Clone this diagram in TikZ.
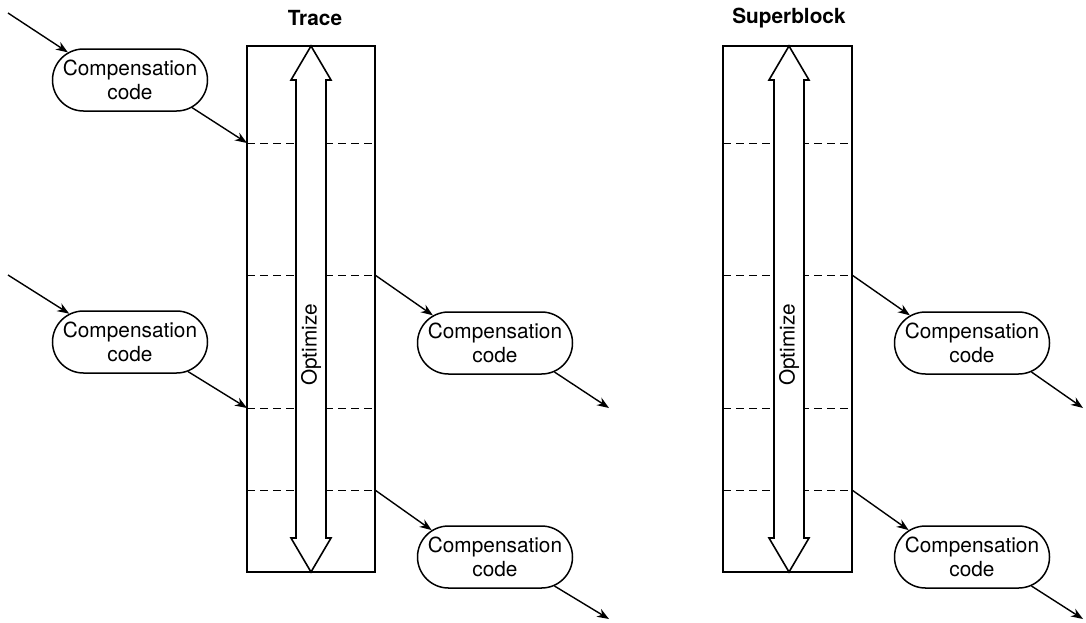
\documentclass[tikz,border=0pt]{standalone}
\usepackage{fontspec}
\setmainfont{TeX Gyre Heros}
\usetikzlibrary{shapes.misc,arrows.meta}
\tikzset{
  comp/.style={draw,line width=0.75pt,rounded rectangle,minimum width=77.5pt,minimum height=31pt,inner sep=0pt,align=center,font=\fontsize{10.4}{12.2}\selectfont},
  blockbox/.style={draw,line width=1pt},
  divider/.style={line width=0.5pt,dash pattern=on 4pt off 2.5pt},
  conn/.style={line width=0.7pt,-{Stealth[length=6pt,width=4.5pt]}},
  title/.style={font=\fontsize{10.4}{12}\selectfont\bfseries},
  optlabel/.style={rotate=90,font=\fontsize{10.4}{12}\selectfont},
  dblarrow/.style={draw,line width=0.8pt,fill=white,line join=miter}
}
\newcommand\OptArrow[3]{% cx, top, bottom
  \filldraw[dblarrow] (#1,#2) -- ({#1+20},{#2+34}) -- ({#1+15},{#2+34}) -- ({#1+15},{#3-34}) -- ({#1+20},{#3-34}) -- (#1,#3) -- ({#1-20},{#3-34}) -- ({#1-15},{#3-34}) -- ({#1-15},{#2+34}) -- ({#1-20},{#2+34}) -- cycle;}
\begin{document}
\begin{tikzpicture}[x=0.5pt,y=-0.5pt]
\useasboundingbox (0,0) rectangle (1086,622);
% ---------- Trace ----------
\node[title] (ttitle) at (315,18) {Trace};
\draw[blockbox] (247,46) rectangle (375,572);
\foreach \yy in {143,275,408,490} \draw[divider] (247,\yy) -- (375,\yy);
\OptArrow{311}{46}{572}
\node[optlabel] (topt) at (311,345) {Optimize};
\coordinate (tl1) at (247,143);
\coordinate (tl3) at (247,408);
\coordinate (tr2) at (375,275);
\coordinate (tr4) at (375,490);
\coordinate (in1) at (8,13);
\coordinate (in2) at (8,275);
\coordinate (out1) at (609,408);
\coordinate (out2) at (609,619);
\node[comp] (c1) at (130,80) {Compensation\\code};
\node[comp] (c2) at (130,342) {Compensation\\code};
\node[comp] (c3) at (495,343) {Compensation\\code};
\node[comp] (c4) at (495,557) {Compensation\\code};
\draw[conn] (in1) -- (c1.156);
\draw[conn] (c1.-24) -- (tl1);
\draw[conn] (in2) -- (c2.155);
\draw[conn] (c2.-27) -- (tl3);
\draw[conn] (tr2) -- (c3.156);
\draw[conn] (c3.-26) -- (out1);
\draw[conn] (tr4) -- (c4.157);
\draw[conn] (c4.-26) -- (out2);
% ---------- Superblock ----------
\node[title] (stitle) at (789,18) {Superblock};
\draw[blockbox] (723,46) rectangle (852,572);
\foreach \yy in {143,275,408,490} \draw[divider] (723,\yy) -- (852,\yy);
\OptArrow{789}{46}{572}
\node[optlabel] (sopt) at (789,345) {Optimize};
\coordinate (sr2) at (852,275);
\coordinate (sr4) at (852,490);
\coordinate (sout1) at (1083,408);
\coordinate (sout2) at (1083,619);
\node[comp] (s3) at (972,343) {Compensation\\code};
\node[comp] (s4) at (972,557) {Compensation\\code};
\draw[conn] (sr2) -- (s3.156);
\draw[conn] (s3.-26) -- (sout1);
\draw[conn] (sr4) -- (s4.157);
\draw[conn] (s4.-26) -- (sout2);
\end{tikzpicture}
\end{document}
